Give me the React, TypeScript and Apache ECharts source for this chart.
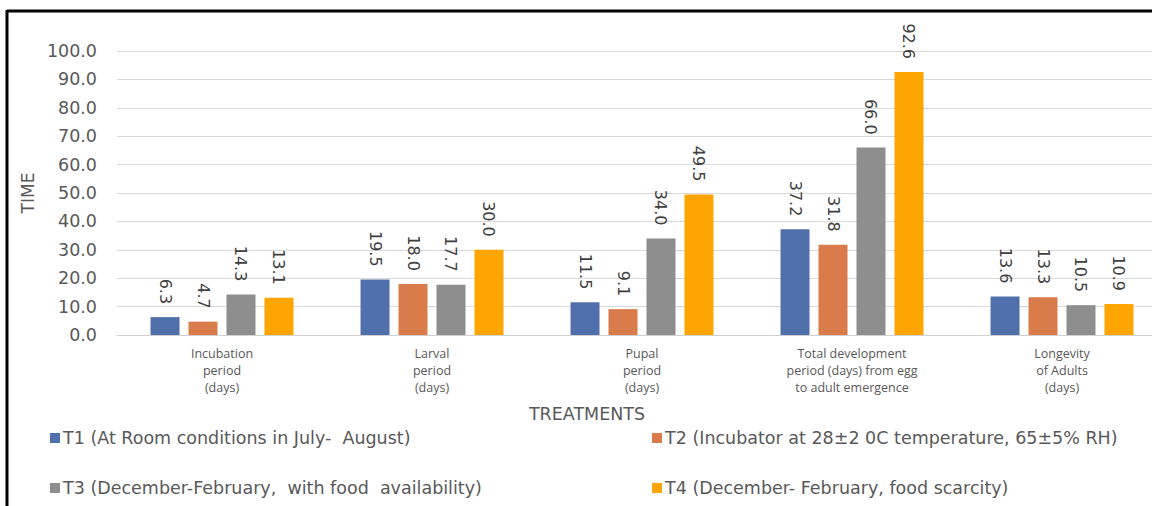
import React, { useEffect, useRef } from "react";
import * as echarts from "echarts";

const categories = [
  "Incubation\nperiod\n(days)",
  "Larval\nperiod\n(days)",
  "Pupal\nperiod\n(days)",
  "Total development\nperiod (days) from egg\nto adult emergence",
  "Longevity\nof Adults\n(days)",
];
const seriesNames = [
  "T1 (At Room conditions in July-  August)",
  "T2 (Incubator at 28±2 0C temperature, 65±5% RH)",
  "T3 (December-February,  with food  availability)",
  "T4 (December- February, food scarcity)",
];
const t1 = [6.3, 19.5, 11.5, 37.2, 13.6];
const t2 = [4.7, 18.0, 9.1, 31.8, 13.3];
const t3 = [14.3, 17.7, 34.0, 66.0, 10.5];
const t4 = [13.1, 30.0, 49.5, 92.6, 10.9];
const colors = ["#5070ab", "#d97b4a", "#8e8e8e", "#ffa502"];

const FONT = "'DejaVu Sans', sans-serif";
const FONT2 = "'Open Sans', sans-serif";
const TXT = "#595959";

export default function App() {
  const ref = useRef<HTMLDivElement>(null);
  useEffect(() => {
    if (!ref.current) return;
    const chart = echarts.init(ref.current, undefined, { renderer: "svg" });
    const data = [t1, t2, t3, t4];
    const legendPos = [
      { left: 50, top: 429 },
      { left: 652, top: 429 },
      { left: 50, top: 479 },
      { left: 652, top: 479 },
    ];
    chart.setOption({
      animation: false,
      color: colors,
      textStyle: { fontFamily: FONT },
      grid: { left: 117, right: 0, top: 51, bottom: 171 },
      legend: seriesNames.map((n, i) => ({
        data: [n],
        left: legendPos[i].left,
        top: legendPos[i].top,
        icon: "rect",
        itemWidth: 10,
        itemHeight: 10,
        itemGap: 10,
        padding: 0,
        selectedMode: false,
        textStyle: { fontSize: 17.5, color: TXT, fontFamily: FONT, padding: [0, 0, 0, -2] },
      })),
      xAxis: {
        type: "category",
        data: categories,
        axisLine: { lineStyle: { color: "#d0d0d0" } },
        axisTick: { show: false },
        axisLabel: {
          fontSize: 12.5,
          lineHeight: 17,
          color: TXT,
          margin: 10,
          interval: 0,
          fontFamily: FONT2,
        },
      },
      yAxis: {
        type: "value",
        min: 0,
        max: 100,
        interval: 10,
        name: "TIME",
        nameLocation: "middle",
        nameGap: 80,
        nameTextStyle: { fontSize: 17, color: TXT, fontFamily: FONT },
        axisLabel: {
          fontSize: 17.5,
          color: TXT,
          margin: 20,
          fontFamily: FONT,
          formatter: (v: number) => v.toFixed(1),
        },
        splitLine: { lineStyle: { color: "#d9d9d9", width: 1 } },
      },
      series: data.map((d, i) => ({
        name: seriesNames[i],
        type: "bar",
        data: d,
        barWidth: 29,
        barGap: "31%",
        itemStyle: { color: colors[i] },
        label: {
          show: true,
          position: "top",
          rotate: -90,
          align: "right",
          verticalAlign: "middle",
          distance: 13,
          fontSize: 16,
          color: "#404040",
          fontFamily: FONT,
          formatter: (p: any) => Number(p.value).toFixed(1),
        },
      })),
      graphic: [
        {
          type: "text",
          x: 587,
          y: 414,
          style: {
            text: "TREATMENTS",
            fontSize: 17.5,
            fill: TXT,
            fontFamily: FONT,
            align: "center",
            verticalAlign: "middle",
          },
        },
        {
          type: "line",
          shape: { x1: 7, y1: 11, x2: 1167, y2: 11 },
          style: { stroke: "#000", lineWidth: 3 },
        },
        {
          type: "line",
          shape: { x1: 7, y1: 10, x2: 7, y2: 506 },
          style: { stroke: "#000", lineWidth: 3 },
        },
      ],
    });
    return () => chart.dispose();
  }, []);
  return (
    <div
      ref={ref}
      style={{ position: "fixed", left: 0, top: 0, width: 1167, height: 506, background: "#fff" }}
    />
  );
}
